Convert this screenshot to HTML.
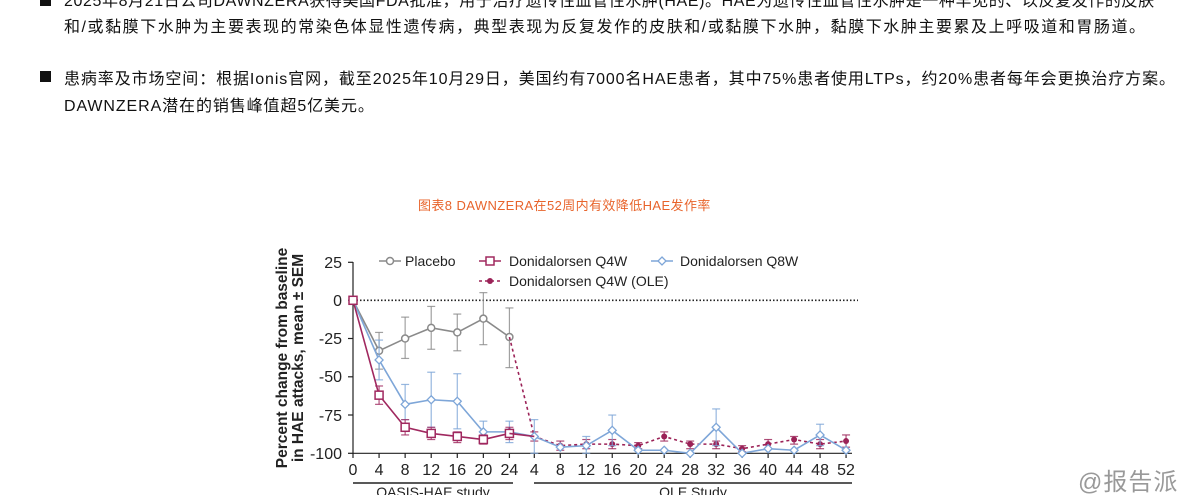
<!DOCTYPE html>
<html><head><meta charset="utf-8"><style>
body{margin:0;width:1200px;height:495px;overflow:hidden;background:#fff;position:relative;font-family:"Liberation Sans","Noto Sans CJK SC",sans-serif}
.t{position:absolute;white-space:nowrap;font-size:16px;letter-spacing:0.9px;color:#111;font-family:"Liberation Sans","Noto Sans CJK SC",sans-serif}
.b{position:absolute;width:11px;height:11px;background:#111}
</style></head><body>
<div class="b" style="left:40px;top:-5px"></div>
<div class="t" style="left:64px;top:-13px;letter-spacing:0.6px">2025年8月21日公司DAWNZERA获得美国FDA批准，用于治疗遗传性血管性水肿(HAE)。HAE为遗传性血管性水肿是一种罕见的、以反复发作的皮肤</div>
<div class="t" style="left:64px;top:13px;letter-spacing:1.55px">和/或黏膜下水肿为主要表现的常染色体显性遗传病，典型表现为反复发作的皮肤和/或黏膜下水肿，黏膜下水肿主要累及上呼吸道和胃肠道。</div>
<div class="b" style="left:40px;top:71px"></div>
<div class="t" style="left:64px;top:65px">患病率及市场空间：根据Ionis官网，截至2025年10月29日，美国约有7000名HAE患者，其中75%患者使用LTPs，约20%患者每年会更换治疗方案。</div>
<div class="t" style="left:64px;top:92px">DAWNZERA潜在的销售峰值超5亿美元。</div>
<div class="t" style="left:418px;top:195px;font-size:13px;color:#e8642c;letter-spacing:0.4px">图表8 DAWNZERA在52周内有效降低HAE发作率</div>
<div class="t" style="left:1078px;top:462px;font-size:24px;color:#999;letter-spacing:1px">@报告派</div>
<svg width="1200" height="495" style="position:absolute;left:0;top:0" font-family="Liberation Sans, sans-serif">
<text transform="translate(287,358) rotate(-90)" text-anchor="middle" font-size="15.5" font-weight="bold" fill="#222">Percent change from baseline</text>
<text transform="translate(303,358) rotate(-90)" text-anchor="middle" font-size="15.5" font-weight="bold" fill="#222">in HAE attacks, mean ± SEM</text>
<g stroke="#222" stroke-width="1.2">
<line x1="353" y1="262" x2="353" y2="454"/>
<line x1="353" y1="453.3" x2="852" y2="453.3"/>
<line x1="348" y1="262.3" x2="353" y2="262.3"/><line x1="348" y1="300.3" x2="353" y2="300.3"/><line x1="348" y1="338.5" x2="353" y2="338.5"/><line x1="348" y1="376.8" x2="353" y2="376.8"/><line x1="348" y1="415" x2="353" y2="415"/><line x1="348" y1="453.3" x2="353" y2="453.3"/>
<line x1="353" y1="483" x2="513" y2="483" stroke-width="1.5"/><line x1="534" y1="483" x2="852" y2="483" stroke-width="1.5"/>
</g>
<line x1="353" y1="300.3" x2="858" y2="300.3" stroke="#222" stroke-width="1.6" stroke-dasharray="1.5,2"/>
<g font-size="16" fill="#222" text-anchor="end">
<text x="342" y="268">25</text><text x="342" y="306">0</text><text x="342" y="344">-25</text><text x="342" y="382">-50</text><text x="342" y="421">-75</text><text x="342" y="459">-100</text>
</g>
<g font-size="16" fill="#222" text-anchor="middle" id="xl"></g>
<text x="433" y="497" font-size="14" text-anchor="middle" fill="#222">OASIS-HAE study</text>
<text x="693" y="497" font-size="14" text-anchor="middle" fill="#222">OLE Study</text>
<!-- legend -->
<g font-size="14" fill="#222">
<line x1="379" y1="261" x2="401" y2="261" stroke="#8a8a8a" stroke-width="1.5"/><circle cx="390" cy="261" r="3.5" fill="#fff" stroke="#8a8a8a" stroke-width="1.5"/><text x="405" y="266">Placebo</text>
<line x1="479" y1="261" x2="501" y2="261" stroke="#a0285f" stroke-width="1.5"/><rect x="486" y="257" width="8" height="8" fill="#fff" stroke="#a0285f" stroke-width="1.5"/><text x="509" y="266">Donidalorsen Q4W</text>
<line x1="651" y1="261" x2="673" y2="261" stroke="#7ea6d8" stroke-width="1.5"/><path d="M662 257 L666 261 L662 265 L658 261Z" fill="#fff" stroke="#7ea6d8" stroke-width="1.3"/><text x="680" y="266">Donidalorsen Q8W</text>
<line x1="479" y1="281" x2="501" y2="281" stroke="#9b2257" stroke-width="1.5" stroke-dasharray="3,3"/><circle cx="490" cy="281" r="3" fill="#9b2257"/><text x="509" y="286">Donidalorsen Q4W (OLE)</text>
</g>
<g id="plot"></g>
</svg>
<script>
const X=i=>i<=6?353+i*26.07:534.3+(i-7)*25.98;
const Y=v=>300.3-v*1.53;
const ns="http://www.w3.org/2000/svg";
function el(t,a,p){const e=document.createElementNS(ns,t);for(const k in a)e.setAttribute(k,a[k]);(p||document.getElementById('plot')).appendChild(e);return e;}
const labs=[0,4,8,12,16,20,24,4,8,12,16,20,24,28,32,36,40,44,48,52];
const xl=document.getElementById('xl');
labs.forEach((l,i)=>{el('line',{x1:X(i),y1:453.3,x2:X(i),y2:458,stroke:'#222','stroke-width':1.2});const t=el('text',{x:X(i),y:475},xl);t.textContent=l;});
function series(idx,vals,errs,col,dash){
 errs.forEach((e,k)=>{if(!e)return;const x=X(idx[k]);el('line',{x1:x,y1:Y(e[0]),x2:x,y2:Y(e[1]),stroke:col,'stroke-width':1.2,opacity:0.8});el('line',{x1:x-4,y1:Y(e[0]),x2:x+4,y2:Y(e[0]),stroke:col,'stroke-width':1.2,opacity:0.8});el('line',{x1:x-4,y1:Y(e[1]),x2:x+4,y2:Y(e[1]),stroke:col,'stroke-width':1.2,opacity:0.8});});
 el('polyline',{points:vals.map((v,k)=>X(idx[k])+','+Y(v)).join(' '),fill:'none',stroke:col,'stroke-width':1.6,'stroke-dasharray':dash||''});
}
const L=[0,1,2,3,4,5,6];
series(L,[0,-33,-25,-18,-21,-12,-24],[null,[-21,-45],[-11,-38],[-4,-32],[-9,-33],[5,-29],[-5,-44]],'#8a8a8a');
L.forEach((i,k)=>el('circle',{cx:X(i),cy:Y([0,-33,-25,-18,-21,-12,-24][k]),r:3.5,fill:'#fff',stroke:'#8a8a8a','stroke-width':1.5}));
const oi=[6,7,8,9,10,11,12,13,14,15,16,17,18,19];
const ov=[-24,-89,-95,-94,-94,-95,-89,-94,-94,-97,-94,-91,-94,-92];
series(oi,ov,[null,[-86,-92],[-92,-98],[-91,-97],[-91,-97],[-93,-97],[-86,-92],[-92,-97],[-92,-97],[-95,-99],[-91,-97],[-89,-94],[-91,-97],[-88,-96]],'#9b2257','3,3');
oi.slice(1).forEach((i,k)=>el('circle',{cx:X(i),cy:Y(ov[k+1]),r:3,fill:'#9b2257'}));
const bi=[0,1,2,3,4,5,6,7,8,9,10,11,12,13,14,15,16,17,18,19];
const bv=[0,-39,-68,-65,-66,-86,-86,-89,-96,-95,-85,-98,-98,-100,-83,-100,-97,-98,-88,-98];
series(bi,bv,[null,[-26,-52],[-55,-78],[-47,-83],[-48,-84],[-79,-93],[-79,-93],[-78,-100],null,[-89,-100],[-75,-95],null,null,null,[-71,-95],null,null,null,[-81,-95],null],'#7ea6d8');
bi.forEach((i,k)=>{const x=X(i),y=Y(bv[k]);el('path',{d:`M${x} ${y-4}L${x+4} ${y}L${x} ${y+4}L${x-4} ${y}Z`,fill:'#fff',stroke:'#7ea6d8','stroke-width':1.3});});
const qv=[0,-62,-83,-87,-89,-91,-87];
series(L,qv,[null,[-56,-68],[-78,-88],[-83,-91],[-86,-93],[-88,-94],[-83,-91]],'#a0285f');
qv.forEach((v,k)=>el('rect',{x:X(k)-4,y:Y(v)-4,width:8,height:8,fill:'#fff',stroke:'#a0285f','stroke-width':1.5}));
el('line',{x1:X(6),y1:Y(-87),x2:X(7),y2:Y(-89),stroke:'#a0285f','stroke-width':1.6});
</script>
</body></html>
